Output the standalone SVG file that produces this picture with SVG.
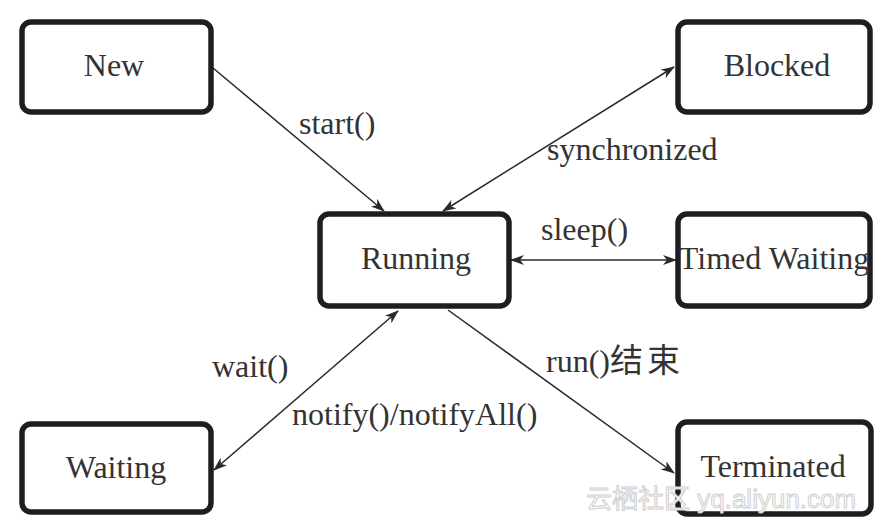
<svg xmlns="http://www.w3.org/2000/svg" width="888" height="520" viewBox="0 0 888 520">
<style>
.box{fill:#fff;stroke:#1e1e1e;stroke-width:5.5}
.t{font-family:"Liberation Serif","Times New Roman",serif;font-size:32px;fill:#333;text-anchor:middle}
.lbl{font-family:"Liberation Serif","Times New Roman","Noto Sans CJK SC",serif;font-size:32px;fill:#333}
.edge{stroke:#2a2a2a;stroke-width:1.5;fill:none}
.wm{font-family:"Liberation Sans","Noto Sans CJK SC",sans-serif;font-size:26px;fill:#fff;stroke:#cfcfcf;stroke-width:1}
</style>
<defs>
<marker id="ah" viewBox="0 0 14 10" refX="13" refY="5" markerWidth="14" markerHeight="10" markerUnits="userSpaceOnUse" orient="auto-start-reverse">
<path d="M0,0 L14,5 L0,10 L4,5 z" fill="#2a2a2a"/>
</marker>
</defs>
<rect width="888" height="520" fill="#fff"/>
<g id="connectors">
<line class="edge" x1="213" y1="68" x2="384" y2="211" marker-end="url(#ah)"/>
<line class="edge" x1="443" y1="211" x2="674" y2="67" marker-start="url(#ah)" marker-end="url(#ah)"/>
<line class="edge" x1="511" y1="260" x2="676" y2="260" marker-start="url(#ah)" marker-end="url(#ah)"/>
<line class="edge" x1="214" y1="470" x2="398" y2="311" marker-start="url(#ah)" marker-end="url(#ah)"/>
<line class="edge" x1="448" y1="310" x2="674" y2="473" marker-end="url(#ah)"/>
</g>
<g id="labels">
<text class="lbl" x="299" y="134">start()</text>
<text class="lbl" x="547" y="160">synchronized</text>
<text class="lbl" x="541" y="240">sleep()</text>
<text class="lbl" x="212" y="377">wait()</text>
<text class="lbl" x="292" y="425">notify()/notifyAll()</text>
<text class="lbl" x="546" y="372">run()<tspan font-size="33" letter-spacing="4">结束</tspan></text>
</g>
<g id="node-new">
<rect class="box" x="22" y="22" width="189" height="90" rx="9"/>
<text class="t" x="114" y="76">New</text>
</g>
<g id="node-blocked">
<rect class="box" x="678" y="22" width="192" height="90" rx="9"/>
<text class="t" x="777" y="76">Blocked</text>
</g>
<g id="node-running">
<rect class="box" x="320" y="214" width="189" height="92" rx="9"/>
<text class="t" x="416" y="269">Running</text>
</g>
<g id="node-timed-waiting">
<rect class="box" x="678" y="214" width="192" height="92" rx="9"/>
<text class="t" x="774" y="269">Timed Waiting</text>
</g>
<g id="node-waiting">
<rect class="box" x="22" y="424" width="189" height="88" rx="9"/>
<text class="t" x="116" y="478">Waiting</text>
</g>
<g id="node-terminated">
<rect class="box" x="678" y="422" width="193" height="92" rx="9"/>
<text class="t" x="773" y="477">Terminated</text>
</g>
<text class="wm" x="586" y="508">云栖社区 yq.aliyun.com</text>
</svg>
